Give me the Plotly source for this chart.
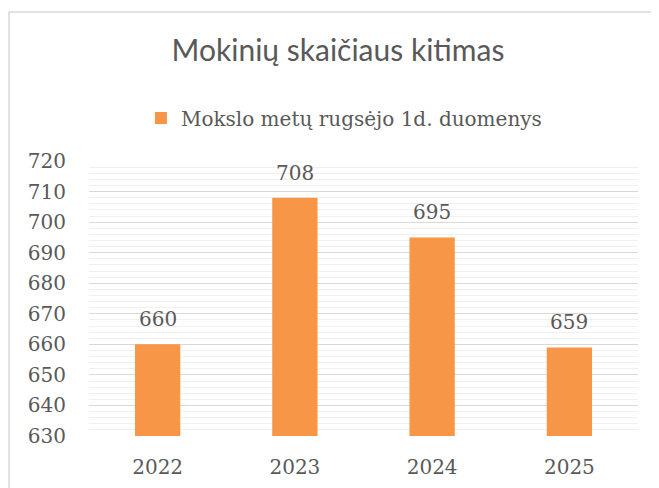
import plotly.graph_objects as go

years = ["2022", "2023", "2024", "2025"]
students = [660, 708, 695, 659]
series_name = "Mokslo metų rugsėjo 1d. duomenys"
title_text = "Mokinių skaičiaus kitimas"
y_ticks = [630, 640, 650, 660, 670, 680, 690, 700, 710, 720]

TEXT = "#595959"
SERIF = "DejaVu Serif"
W, H = 659, 488
L, T, R, B = 81, 153, 630, 428  # plot area in figure pixels

fig = go.Figure()
fig.add_trace(go.Bar(
    x=years, y=students, name=series_name,
    marker=dict(color="#F79646", line=dict(width=0)),
    width=0.33,
    showlegend=True,
))

for i, v in enumerate(students):
    fig.add_annotation(x=i, y=v, text=str(v), showarrow=False, yanchor="bottom",
                       yshift=11, font=dict(family=SERIF, size=20, color=TEXT))

fig.update_layout(
    width=W, height=H,
    margin=dict(l=L, r=W - R, t=T, b=H - B),
    paper_bgcolor="white", plot_bgcolor="white",
    title=dict(text=title_text, x=330 / W, xanchor="center", y=1 - 42 / H, yanchor="middle",
               yref="container",
               font=dict(family="Lato", size=30, color=TEXT)),
    showlegend=True,
    legend=dict(orientation="h", x=306 / W, xanchor="center", y=1 - 110 / H, yanchor="middle",
                yref="container",
                font=dict(family=SERIF, size=20, color=TEXT), itemwidth=30),
    xaxis=dict(type="category", range=[-0.5, len(years) - 0.5], showgrid=False, showline=False,
               ticks="", ticklabelstandoff=17,
               tickfont=dict(family=SERIF, size=20, color=TEXT)),
    yaxis=dict(range=[630, 720], tickvals=y_ticks, showgrid=True, gridcolor="#D9D9D9", gridwidth=1,
               zeroline=False, showline=False, ticks="", ticklabelstandoff=22,
               tickfont=dict(family=SERIF, size=20, color=TEXT),
               minor=dict(dtick=2, showgrid=True, gridcolor="#F0F0F0", gridwidth=1)),
)

pw, ph = R - L, B - T
fig.add_shape(type="rect", xref="paper", yref="paper",
              x0=(1 - L) / pw, x1=(W + 20 - L) / pw,
              y0=(B - H - 20) / ph, y1=(B - 4) / ph,
              line=dict(color="#D9D9D9", width=1.5), fillcolor="rgba(0,0,0,0)", layer="below")

fig.write_html("out.html")
